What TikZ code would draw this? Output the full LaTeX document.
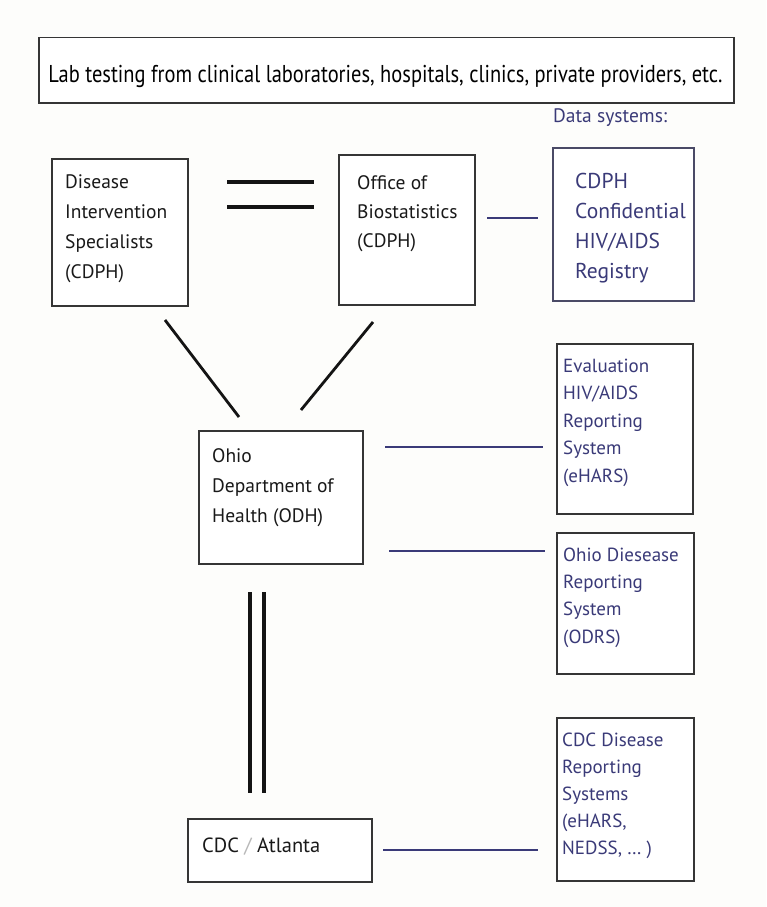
\documentclass[tikz,border=0pt]{standalone}
\usepackage{fontspec}
\usepackage{graphicx}
\setmainfont{PT Sans}
\definecolor{navy}{HTML}{3A3A78}
\definecolor{bord}{HTML}{353535}
\definecolor{regbord}{HTML}{4A4A66}
\definecolor{bg}{HTML}{FDFDFB}
\definecolor{slash}{HTML}{B8B8B8}
\newcommand{\mlines}[2]{\fontsize{#1}{#2}\selectfont\begin{tabular}[t]{@{}l@{}}}
\begin{document}
\begin{tikzpicture}[x=1pt,y=-1pt,
  box/.style={draw=bord, line width=1.5pt, fill=white, inner sep=0pt, anchor=north west},
  txt/.style={anchor=base west, inner sep=0pt, text=black!90},
  btxt/.style={anchor=base west, inner sep=0pt, text=navy},
  thick2/.style={line width=3.4pt, black!92},
  blue2/.style={line width=2.5pt, navy}]
\fill[bg] (0,0) rectangle (766,907);
\useasboundingbox (0,0) rectangle (766,907);

% top box
\node[box, minimum width=695pt, minimum height=65pt] (top) at (38,37) {};
\node[anchor=base, inner sep=0pt] (toptxt) at (385.5,82) {\resizebox{674pt}{!}{\scalebox{0.84}[1]{\fontsize{20}{24}\selectfont Lab testing from clinical laboratories, hospitals, clinics, private providers, etc.}}};

\node[btxt, font=\fontsize{19.5}{22}\selectfont] (ds) at (553,122) {Data systems:};

% boxes
\node[box, minimum width=136pt, minimum height=147pt] (dis) at (51,158) {};
\node[box, minimum width=136pt, minimum height=150pt] (ob) at (338,154) {};
\node[box, draw=regbord, minimum width=141pt, minimum height=153pt] (reg) at (552,147) {};
\node[box, minimum width=164pt, minimum height=133pt] (odh) at (198,430) {};
\node[box, minimum width=136pt, minimum height=170pt] (eh) at (556,343) {};
\node[box, minimum width=137pt, minimum height=141pt] (odrs) at (556,532) {};
\node[box, minimum width=184pt, minimum height=63pt] (cdc) at (187,818) {};
\node[box, minimum width=137pt, minimum height=163pt] (cdcs) at (556,717) {};

% texts
\node[txt] (distxt) at (65,188) {\mlines{19.5}{30}Disease\\Intervention\\Specialists\\(CDPH)\end{tabular}};
\node[txt] (obtxt) at (357,189) {\mlines{19.5}{29}Office of\\Biostatistics\\(CDPH)\end{tabular}};
\node[btxt] (regtxt) at (575,188) {\mlines{21.5}{30}CDPH\\Confidential\\HIV/AIDS\\Registry\end{tabular}};
\node[txt] (odhtxt) at (212,462) {\mlines{19.5}{30}Ohio\\Department of\\Health (ODH)\end{tabular}};
\node[btxt] (ehtxt) at (563,372) {\mlines{19}{27.5}Evaluation\\HIV/AIDS\\Reporting\\System\\(eHARS)\end{tabular}};
\node[btxt] (odrstxt) at (563,561) {\mlines{19}{27.4}Ohio Diesease\\Reporting\\System\\(ODRS)\end{tabular}};
\node[txt, font=\fontsize{20.5}{24}\selectfont] (cdctxt) at (202,852) {CDC \textcolor{slash}{/} Atlanta};
\node[btxt] (cdcstxt) at (562,746) {\mlines{19}{27}CDC Disease\\Reporting\\Systems\\(eHARS,\\NEDSS, \dots\ )\end{tabular}};

% connector end points
\coordinate (eqA1) at (227,182); \coordinate (eqB1) at (314,182);
\coordinate (eqA2) at (227,207); \coordinate (eqB2) at (314,207);
\coordinate (obR) at (487,218); \coordinate (regL) at (538,218);
\coordinate (disD) at (165,320); \coordinate (odhUL) at (239,417);
\coordinate (obD) at (373,322); \coordinate (odhUR) at (301,410);
\coordinate (odhR1) at (385,447); \coordinate (ehL) at (543,447);
\coordinate (odhR2) at (389,551); \coordinate (odrsL) at (545,551);
\coordinate (odhD1) at (250,592); \coordinate (cdcU1) at (250,793);
\coordinate (odhD2) at (264,592); \coordinate (cdcU2) at (264,793);
\coordinate (cdcR) at (383,850); \coordinate (cdcsL) at (538,850);

\draw[thick2] (eqA1) -- (eqB1);
\draw[thick2] (eqA2) -- (eqB2);
\draw[blue2] (obR) -- (regL);
\draw[line width=2.8pt, black!92] (disD) -- (odhUL);
\draw[line width=2.8pt, black!92] (obD) -- (odhUR);
\draw[blue2] (odhR1) -- (ehL);
\draw[blue2] (odhR2) -- (odrsL);
\draw[thick2] (odhD1) -- (cdcU1);
\draw[thick2] (odhD2) -- (cdcU2);
\draw[blue2] (cdcR) -- (cdcsL);
\end{tikzpicture}
\end{document}
